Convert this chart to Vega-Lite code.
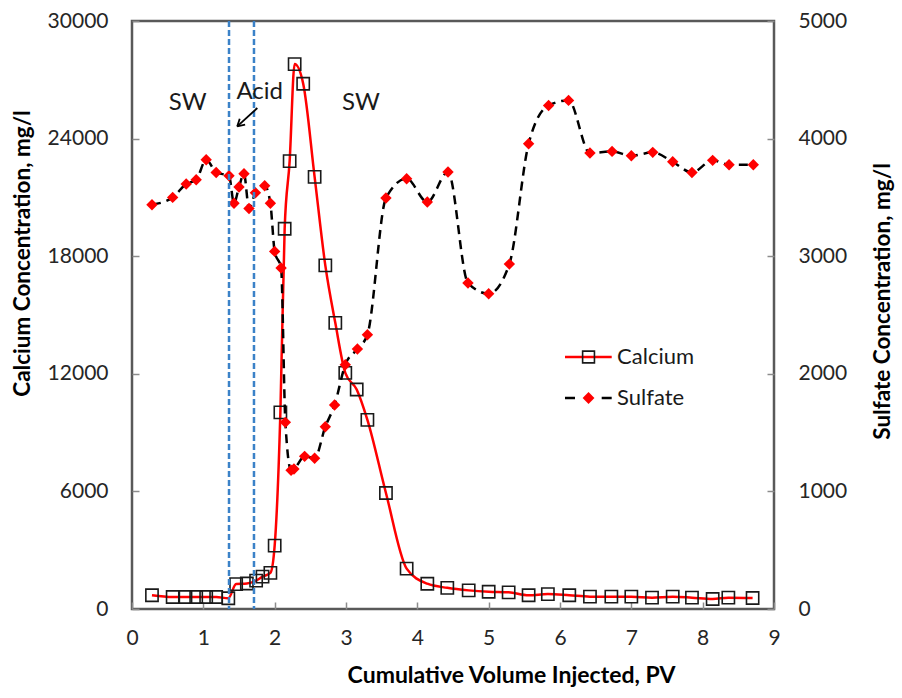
{
  "$schema": "https://vega.github.io/schema/vega-lite/v6.json",
  "width": 642,
  "height": 588,
  "autosize": {"type": "none"},
  "padding": {"left": 132, "top": 21, "right": 128, "bottom": 89},
  "background": "white",
  "config": {
    "font": "Lato",
    "view": {"stroke": "#595959", "strokeWidth": 2.5}
  },
  "datasets": {
    "calcium": [
      {"pv": 0.28, "ca": 700}, {"pv": 0.57, "ca": 610}, {"pv": 0.75, "ca": 610},
      {"pv": 0.90, "ca": 610}, {"pv": 1.04, "ca": 610}, {"pv": 1.18, "ca": 610},
      {"pv": 1.35, "ca": 550}, {"pv": 1.46, "ca": 1270}, {"pv": 1.61, "ca": 1300},
      {"pv": 1.74, "ca": 1450}, {"pv": 1.83, "ca": 1650}, {"pv": 1.94, "ca": 1840},
      {"pv": 2.00, "ca": 3230}, {"pv": 2.08, "ca": 10030}, {"pv": 2.14, "ca": 19400},
      {"pv": 2.21, "ca": 22850}, {"pv": 2.28, "ca": 27800}, {"pv": 2.40, "ca": 26800},
      {"pv": 2.56, "ca": 22050}, {"pv": 2.71, "ca": 17530}, {"pv": 2.85, "ca": 14600},
      {"pv": 2.99, "ca": 12050}, {"pv": 3.15, "ca": 11200}, {"pv": 3.30, "ca": 9650},
      {"pv": 3.56, "ca": 5920}, {"pv": 3.85, "ca": 2060}, {"pv": 4.14, "ca": 1290},
      {"pv": 4.42, "ca": 1080}, {"pv": 4.72, "ca": 950}, {"pv": 5.00, "ca": 880},
      {"pv": 5.28, "ca": 850}, {"pv": 5.56, "ca": 700}, {"pv": 5.83, "ca": 760},
      {"pv": 6.13, "ca": 700}, {"pv": 6.42, "ca": 630}, {"pv": 6.72, "ca": 630},
      {"pv": 7.00, "ca": 630}, {"pv": 7.29, "ca": 580}, {"pv": 7.58, "ca": 630},
      {"pv": 7.85, "ca": 580}, {"pv": 8.14, "ca": 510}, {"pv": 8.36, "ca": 580},
      {"pv": 8.70, "ca": 560}
    ],
    "sulfate": [
      {"pv": 0.28, "so4": 3438}, {"pv": 0.57, "so4": 3500}, {"pv": 0.76, "so4": 3614},
      {"pv": 0.90, "so4": 3650}, {"pv": 1.04, "so4": 3820}, {"pv": 1.18, "so4": 3712},
      {"pv": 1.36, "so4": 3684}, {"pv": 1.43, "so4": 3450}, {"pv": 1.50, "so4": 3588},
      {"pv": 1.57, "so4": 3701}, {"pv": 1.64, "so4": 3406}, {"pv": 1.73, "so4": 3540},
      {"pv": 1.86, "so4": 3599}, {"pv": 1.94, "so4": 3450}, {"pv": 2.00, "so4": 3041},
      {"pv": 2.09, "so4": 2900}, {"pv": 2.15, "so4": 1587}, {"pv": 2.23, "so4": 1180},
      {"pv": 2.27, "so4": 1190}, {"pv": 2.42, "so4": 1298}, {"pv": 2.56, "so4": 1282},
      {"pv": 2.71, "so4": 1550}, {"pv": 2.84, "so4": 1735}, {"pv": 2.99, "so4": 2077},
      {"pv": 3.16, "so4": 2211}, {"pv": 3.30, "so4": 2332}, {"pv": 3.56, "so4": 3495},
      {"pv": 3.85, "so4": 3659}, {"pv": 4.14, "so4": 3461}, {"pv": 4.43, "so4": 3716},
      {"pv": 4.71, "so4": 2772}, {"pv": 5.00, "so4": 2681}, {"pv": 5.29, "so4": 2933},
      {"pv": 5.56, "so4": 3956}, {"pv": 5.84, "so4": 4282}, {"pv": 6.12, "so4": 4325},
      {"pv": 6.42, "so4": 3877}, {"pv": 6.73, "so4": 3891}, {"pv": 7.00, "so4": 3854},
      {"pv": 7.30, "so4": 3883}, {"pv": 7.58, "so4": 3803}, {"pv": 7.85, "so4": 3712},
      {"pv": 8.14, "so4": 3815}, {"pv": 8.37, "so4": 3778}, {"pv": 8.71, "so4": 3778}
    ]
  },
  "layer": [
    {
      "data": {"name": "calcium"},
      "mark": {"type": "line", "color": "#ff0000", "strokeWidth": 2.5, "interpolate": "monotone"},
      "encoding": {
        "x": {
          "field": "pv", "type": "quantitative",
          "scale": {"domain": [0, 9], "nice": false},
          "axis": {
            "title": "Cumulative Volume Injected, PV",
            "values": [0, 1, 2, 3, 4, 5, 6, 7, 8, 9],
            "format": "d",
            "labelFlush": false,
            "grid": false, "domain": false,
            "tickColor": "#8c8c8c", "tickSize": -7, "tickWidth": 1.5,
            "labelFont": "Lato", "labelFontSize": 21, "labelColor": "#262626",
            "labelPadding": 25,
            "titleFont": "Lato", "titleFontSize": 23, "titleFontWeight": "bold", "titleColor": "#000000",
            "titlePadding": 16, "titleX": 379
          }
        },
        "y": {
          "field": "ca", "type": "quantitative",
          "scale": {"domain": [0, 30000], "nice": false},
          "axis": {
            "title": "Calcium Concentration, mg/l",
            "values": [0, 6000, 12000, 18000, 24000, 30000],
            "format": "d",
            "labelFlush": false,
            "grid": false, "domain": false,
            "tickColor": "#8c8c8c", "tickSize": -7, "tickWidth": 1.5,
            "labelFont": "Lato", "labelFontSize": 21, "labelColor": "#262626",
            "labelPadding": 31,
            "titleFont": "Lato", "titleFontSize": 22.5, "titleFontWeight": "bold", "titleColor": "#000000",
            "titlePadding": 13, "titleY": 232
          }
        }
      }
    },
    {
      "data": {"name": "calcium"},
      "mark": {"type": "point", "shape": "square", "size": 150, "filled": false, "stroke": "#1a1a1a", "strokeWidth": 1.6, "opacity": 1},
      "encoding": {
        "x": {"field": "pv", "type": "quantitative"},
        "y": {"field": "ca", "type": "quantitative", "scale": {"domain": [0, 30000], "nice": false}, "axis": null}
      }
    },
    {
      "data": {"name": "sulfate"},
      "mark": {"type": "line", "color": "#000000", "strokeWidth": 2.5, "strokeDash": [9, 6], "interpolate": "monotone"},
      "encoding": {
        "x": {"field": "pv", "type": "quantitative"},
        "y": {
          "field": "so4", "type": "quantitative",
          "scale": {"domain": [0, 5000], "nice": false},
          "axis": {
            "orient": "right",
            "title": "Sulfate Concentration, mg/l",
            "values": [0, 1000, 2000, 3000, 4000, 5000],
            "format": "d",
            "labelFlush": false,
            "grid": false, "domain": false,
            "tickColor": "#8c8c8c", "tickSize": -7, "tickWidth": 1.5,
            "labelFont": "Lato", "labelFontSize": 21, "labelColor": "#262626",
            "labelPadding": 31,
            "titleFont": "Lato", "titleFontSize": 22.5, "titleFontWeight": "bold", "titleColor": "#000000",
            "titleAngle": -90, "titlePadding": 48, "titleY": 280
          }
        }
      }
    },
    {
      "data": {"name": "sulfate"},
      "mark": {"type": "point", "shape": "diamond", "size": 130, "filled": true, "color": "#ff0000", "opacity": 1},
      "encoding": {
        "x": {"field": "pv", "type": "quantitative"},
        "y": {"field": "so4", "type": "quantitative", "scale": {"domain": [0, 5000], "nice": false}, "axis": null}
      }
    },
    {
      "data": {"values": [{"pv": 1.36}, {"pv": 1.71}]},
      "mark": {"type": "rule", "color": "#3b82c8", "strokeWidth": 2.5, "strokeDash": [6, 3]},
      "encoding": {"x": {"field": "pv", "type": "quantitative"}}
    },
    {
      "data": {"values": [{"pv": 0.78, "ca": 25810, "label": "SW"}, {"pv": 1.79, "ca": 26360, "label": "Acid"}, {"pv": 3.21, "ca": 25810, "label": "SW"}]},
      "mark": {"type": "text", "fontSize": 24, "color": "#1a1a1a", "align": "center", "baseline": "middle"},
      "encoding": {
        "x": {"field": "pv", "type": "quantitative"},
        "y": {"field": "ca", "type": "quantitative", "scale": {"domain": [0, 30000], "nice": false}, "axis": null},
        "text": {"field": "label"}
      }
    },
    {
      "data": {"values": [
        {"pv": 1.757, "ca": 25560, "pv2": 1.475, "ca2": 24622},
        {"pv": 1.475, "ca": 24622, "pv2": 1.586, "ca2": 24709},
        {"pv": 1.475, "ca": 24622, "pv2": 1.510, "ca2": 25010}
      ]},
      "mark": {"type": "rule", "color": "#000000", "strokeWidth": 1.8},
      "encoding": {
        "x": {"field": "pv", "type": "quantitative"},
        "x2": {"field": "pv2"},
        "y": {"field": "ca", "type": "quantitative", "scale": {"domain": [0, 30000], "nice": false}, "axis": null},
        "y2": {"field": "ca2"}
      }
    },
    {
      "data": {"values": [{"series": "Calcium", "pv": 6.07, "pv2": 6.725}, {"series": "Sulfate", "pv": 6.07, "pv2": 6.725}]},
      "mark": {"type": "rule", "strokeWidth": 2.5},
      "encoding": {
        "x": {"field": "pv", "type": "quantitative"},
        "x2": {"field": "pv2"},
        "y": {"field": "series", "type": "ordinal", "scale": {"type": "point", "domain": ["Calcium", "Sulfate"], "range": [336, 377], "padding": 0}, "axis": null},
        "color": {"field": "series", "type": "nominal", "scale": {"domain": ["Calcium", "Sulfate"], "range": ["#ff0000", "#000000"]}, "legend": null},
        "strokeDash": {"field": "series", "type": "nominal", "scale": {"domain": ["Calcium", "Sulfate"], "range": [[1, 0], [10, 26.7]]}, "legend": null}
      }
    },
    {
      "data": {"values": [{"series": "Calcium", "pv": 6.40}, {"series": "Sulfate", "pv": 6.40}]},
      "mark": {"type": "point", "size": 140, "opacity": 1, "strokeWidth": 1.6},
      "encoding": {
        "x": {"field": "pv", "type": "quantitative"},
        "y": {"field": "series", "type": "ordinal", "scale": {"type": "point", "domain": ["Calcium", "Sulfate"], "range": [336, 377], "padding": 0}, "axis": null},
        "shape": {"field": "series", "type": "nominal", "scale": {"domain": ["Calcium", "Sulfate"], "range": ["square", "diamond"]}, "legend": null},
        "fill": {"field": "series", "type": "nominal", "scale": {"domain": ["Calcium", "Sulfate"], "range": ["transparent", "#ff0000"]}, "legend": null},
        "stroke": {"field": "series", "type": "nominal", "scale": {"domain": ["Calcium", "Sulfate"], "range": ["#1a1a1a", "transparent"]}, "legend": null}
      }
    },
    {
      "data": {"values": [{"series": "Calcium", "pv": 6.80}, {"series": "Sulfate", "pv": 6.80}]},
      "mark": {"type": "text", "fontSize": 22, "color": "#1a1a1a", "align": "left", "baseline": "middle"},
      "encoding": {
        "x": {"field": "pv", "type": "quantitative"},
        "y": {"field": "series", "type": "ordinal", "scale": {"type": "point", "domain": ["Calcium", "Sulfate"], "range": [336, 377], "padding": 0}, "axis": null},
        "text": {"field": "series"}
      }
    }
  ],
  "resolve": {"scale": {"y": "independent"}}
}
